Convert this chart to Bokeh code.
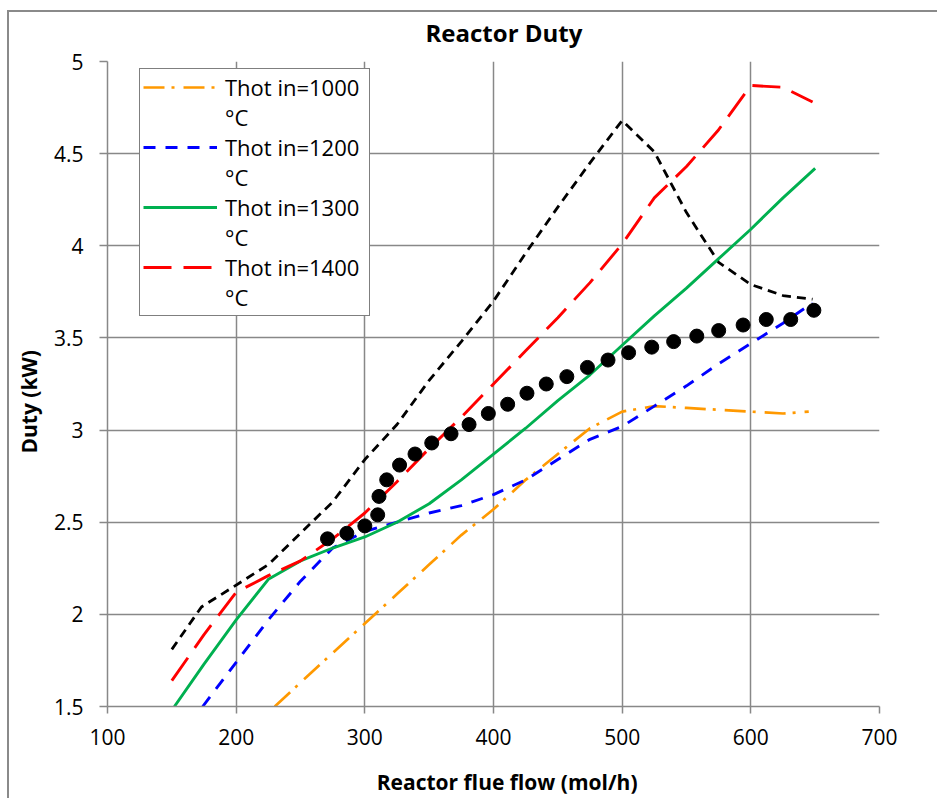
from bokeh.plotting import figure
from bokeh.models import (Legend, LegendItem, Title, FixedTicker, Range1d)
from bokeh.embed import file_html
from bokeh.resources import INLINE

# ---------------- data ----------------
title_text = "Reactor Duty"
x_label = "Reactor flue flow (mol/h)"
y_label = "Duty (kW)"

x_ticks = [100, 200, 300, 400, 500, 600, 700]
x_tick_labels = ["100", "200", "300", "400", "500", "600", "700"]
y_ticks = [1.5, 2, 2.5, 3, 3.5, 4, 4.5, 5]
y_tick_labels = ["1.5", "2", "2.5", "3", "3.5", "4", "4.5", "5"]

series_names = ["Thot in=1000", "Thot in=1200", "Thot in=1300", "Thot in=1400"]
unit_label = "°C"

t1000_x = [230, 250, 275, 300, 325, 350, 375, 400, 425, 450, 475, 500, 525, 550, 575, 600, 625, 645]
t1000_y = [1.50, 1.63, 1.79, 1.95, 2.11, 2.27, 2.43, 2.57, 2.73, 2.87, 3.01, 3.10, 3.13, 3.12, 3.11, 3.10, 3.09, 3.10]

t1200_x = [174, 200, 225, 250, 275, 300, 325, 350, 375, 400, 425, 450, 475, 500, 525, 550, 575, 600, 625, 648]
t1200_y = [1.50, 1.74, 1.97, 2.18, 2.36, 2.45, 2.50, 2.55, 2.59, 2.65, 2.73, 2.84, 2.95, 3.02, 3.13, 3.24, 3.36, 3.47, 3.58, 3.69]

t1300_x = [152, 175, 200, 225, 250, 275, 300, 325, 350, 375, 400, 425, 450, 475, 500, 525, 550, 575, 600, 625, 650]
t1300_y = [1.50, 1.73, 1.97, 2.19, 2.29, 2.36, 2.42, 2.50, 2.60, 2.73, 2.87, 3.01, 3.16, 3.30, 3.46, 3.62, 3.77, 3.93, 4.09, 4.26, 4.42]

t1400_x = [150, 175, 200, 225, 250, 275, 300, 325, 350, 375, 400, 425, 450, 475, 500, 525, 550, 575, 600, 625, 648]
t1400_y = [1.64, 1.89, 2.12, 2.21, 2.29, 2.41, 2.55, 2.72, 2.90, 3.07, 3.25, 3.43, 3.61, 3.80, 4.01, 4.26, 4.43, 4.63, 4.87, 4.86, 4.78]

black_x = [150, 173, 198, 225, 250, 275, 300, 325, 350, 375, 400, 425, 450, 475, 500, 525, 550, 575, 600, 625, 648]
black_y = [1.81, 2.04, 2.15, 2.27, 2.44, 2.61, 2.84, 3.03, 3.27, 3.48, 3.70, 3.96, 4.21, 4.45, 4.68, 4.51, 4.18, 3.91, 3.79, 3.73, 3.71]

dot_x = [271, 286, 300, 310, 311, 317, 327, 339, 352, 367, 381, 396, 411, 426, 441, 457, 473, 489, 505, 523, 540, 558, 575, 594, 612, 631, 649]
dot_y = [2.41, 2.44, 2.48, 2.54, 2.64, 2.73, 2.81, 2.87, 2.93, 2.98, 3.03, 3.09, 3.14, 3.20, 3.25, 3.29, 3.34, 3.38, 3.42, 3.45, 3.48, 3.51, 3.54, 3.57, 3.60, 3.60, 3.65]

# ---------------- figure ----------------
W, H = 937, 798
FL, FR, FT, FB = 107, 879, 61, 706   # frame edges (px)

FONT = "Open Sans"
GRID = "#888888"
EDGE = "#8a8a8a"

p = figure(width=W, height=H, output_backend="svg", toolbar_location=None,
           x_range=Range1d(100, 700), y_range=Range1d(1.5, 5),
           min_border_left=FL, min_border_right=W - FR,
           min_border_top=FT, min_border_bottom=H - FB)
# chart-area edge (left and top) painted behind the transparent border area
p.styles = {"background": (f"linear-gradient({EDGE},{EDGE}) 7px 10px / 2px calc(100% - 10px) no-repeat, "
                           f"linear-gradient({EDGE},{EDGE}) 7px 10px / calc(100% - 7px) 2px no-repeat, "
                           "#ffffff")}
p.background_fill_color = "white"
p.border_fill_alpha = 0
p.outline_line_color = None

for ax, ticks, labels, out in ((p.xaxis, x_ticks, x_tick_labels, 7), (p.yaxis, y_ticks, y_tick_labels, 8)):
    ax.ticker = FixedTicker(ticks=ticks)
    ax.major_label_overrides = {t: l for t, l in zip(ticks, labels)}
    ax.axis_line_color = GRID
    ax.axis_line_width = 1.5
    ax.major_tick_line_color = GRID
    ax.major_tick_line_width = 1.5
    ax.major_tick_out = out
    ax.major_tick_in = 0
    ax.minor_tick_line_color = None
    ax.major_label_text_font = FONT
    ax.major_label_text_font_size = "21px"
    ax.major_label_text_color = "black"
p.xaxis.major_label_standoff = 15
p.yaxis.major_label_standoff = 16

# x axis title (shifted right like the original by leading no-break spaces)
p.xaxis.axis_label = "\u00a0" * 5 + x_label
p.xaxis.axis_label_standoff = 20
p.xaxis.axis_label_text_font = FONT
p.xaxis.axis_label_text_font_style = "bold"
p.xaxis.axis_label_text_font_size = "21px"
p.xaxis.axis_label_text_color = "black"

p.xgrid.ticker = FixedTicker(ticks=x_ticks)
p.ygrid.ticker = FixedTicker(ticks=y_ticks)
for g in (p.xgrid, p.ygrid):
    g.grid_line_color = GRID
    g.grid_line_width = 1.5

# ---------------- series ----------------
p.line(black_x, black_y, line_color="black", line_width=2.8, line_dash="9 6")
r1000 = p.line(t1000_x, t1000_y, line_color="#FF9900", line_width=2.7, line_dash="21 7 3 9")
r1200 = p.line(t1200_x, t1200_y, line_color="#0000FF", line_width=2.9, line_dash="12 10")
r1300 = p.line(t1300_x, t1300_y, line_color="#00B050", line_width=2.9)
r1400 = p.line(t1400_x, t1400_y, line_color="#FF0000", line_width=2.9, line_dash="28 12")
p.scatter(dot_x, dot_y, size=14, marker="circle", fill_color="black", line_color="black")

dummy = p.line(x=[], y=[], line_alpha=0)

items = []
for name, r in zip(series_names, (r1000, r1200, r1300, r1400)):
    items.append(LegendItem(label=name, renderers=[r]))
    items.append(LegendItem(label=unit_label, renderers=[dummy]))

LEG_TOP, LEG_BOTTOM = 70, 316
legend = Legend(items=items, location=(139 - FL, FB - LEG_BOTTOM))
legend.margin = 0
legend.padding = 3
legend.spacing = 0
legend.glyph_width = 74
legend.glyph_height = 20
legend.label_height = 29
legend.label_width = 141
legend.label_standoff = 8
legend.label_text_font = FONT
legend.label_text_font_size = "22px"
legend.label_text_color = "black"
legend.border_line_color = "black"
legend.border_line_width = 1.5
legend.background_fill_color = "white"
legend.background_fill_alpha = 1.0
p.add_layout(legend)

# ---------------- titles ----------------
t_main = Title(text=title_text, align="left", offset=503 - 78 - FL, standoff=25,
               text_font=FONT, text_font_style="bold", text_font_size="24px", text_color="black")
p.add_layout(t_main, "above")

t_y = Title(text=y_label, align="left", offset=FB - 453, standoff=16,
            text_font=FONT, text_font_style="bold", text_font_size="21px", text_color="black")
p.add_layout(t_y, "left")

open("out.html", "w").write(file_html(p, INLINE))
